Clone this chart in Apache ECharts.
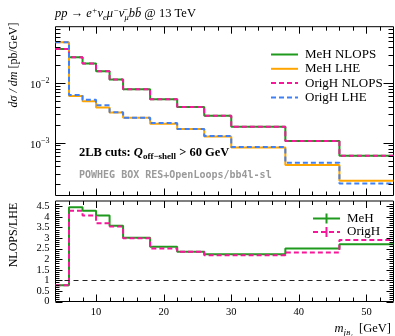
<!DOCTYPE html>
<html><head><meta charset="utf-8">
<script src="https://cdn.jsdelivr.net/npm/echarts@6/dist/echarts.min.js"></script>
<style>html,body{margin:0;padding:0;background:#fff}#c{width:395px;height:336px}</style>
</head><body><div id="c"></div>
<script>
// ---- data ----
const binEdges = [4, 6, 8, 10, 12, 14, 18, 22, 26, 30, 38, 46, 54];
const mehNlops   = [0.0371, 0.0269, 0.0212, 0.0157, 0.0114, 0.00787, 0.00535, 0.00396, 0.00283, 0.00185, 0.00107, 0.000606];
const mehLhe     = [0.0482, 0.00605, 0.00494, 0.00387, 0.00320, 0.00262, 0.00207, 0.00169, 0.00127, 0.00083, 0.000425, 0.000231];
const orighNlops = [0.0371, 0.0269, 0.0212, 0.0157, 0.0114, 0.00787, 0.00535, 0.00396, 0.00283, 0.00185, 0.00107, 0.000606];
const orighLhe   = [0.0482, 0.00628, 0.00522, 0.00424, 0.00323, 0.00263, 0.00213, 0.00169, 0.00129, 0.00085, 0.00046, 0.000208];
const mehRatio   = [0.77, 4.45, 4.29, 4.06, 3.58, 3.01, 2.59, 2.35, 2.23, 2.23, 2.51, 2.70];
const orighRatio = [0.77, 4.29, 4.06, 3.70, 3.54, 2.99, 2.51, 2.35, 2.19, 2.19, 2.32, 2.91];
// ---- ticks / labels ----
const xMajorTicks = [10, 20, 30, 40, 50];
const xMinorTicks = [6, 8, 12, 14, 16, 18, 22, 24, 26, 28, 32, 34, 36, 38, 42, 44, 46, 48, 52];
const logMajorTicks = [0.001, 0.01];
const logMajorLabels = ['−3', '−2'];
const logMinorTicks = [2e-4,3e-4,4e-4,5e-4,6e-4,7e-4,8e-4,9e-4, 2e-3,3e-3,4e-3,5e-3,6e-3,7e-3,8e-3,9e-3, 2e-2,3e-2,4e-2,5e-2,6e-2,7e-2,8e-2];
const ratioMajorTicks = [0, 0.5, 1, 1.5, 2, 2.5, 3, 3.5, 4, 4.5];
const ratioMajorLabels = ['0', '0.5', '1', '1.5', '2', '2.5', '3', '3.5', '4', '4.5'];
const ratioMinorTicks = [];
for (let k = 1; k < 47; k++) { if (k % 5 !== 0) ratioMinorTicks.push(k / 10); }

const SERIF = 'Liberation Serif';
const MONO = 'DejaVu Sans Mono';
const C_GREEN = '#1f9a1f', C_ORANGE = '#ffa500', C_PINK = '#f5169a', C_BLUE = '#4080f5';

function steps(vals) {
  const pts = [];
  vals.forEach((v, i) => { pts.push([binEdges[i], v], [binEdges[i + 1], v]); });
  return pts;
}

function tickRenderer(cfg) {
  return function (params, api) {
    const cs = params.coordSys;
    const ch = [];
    const top = cs.y, bot = cs.y + cs.height, lft = cs.x, rgt = cs.x + cs.width;
    const seg = (x1, y1, x2, y2) => ch.push({type: 'line', shape: {x1, y1, x2, y2}, style: {stroke: '#000', lineWidth: 1}});
    const xt = (v, len) => { const px = Math.round(api.coord([v, cfg.yRef])[0]) + 0.5; seg(px, bot, px, bot - len); seg(px, top, px, top + len); };
    const yt = (v, len) => { const py = Math.round(api.coord([cfg.xRef, v])[1]) + 0.5; seg(lft, py, lft + len, py); seg(rgt, py, rgt - len, py); };
    cfg.xMaj.forEach(v => xt(v, 7));
    cfg.xMin.forEach(v => xt(v, 4));
    cfg.yMaj.forEach(v => yt(v, cfg.yMajLen));
    cfg.yMin.forEach(v => yt(v, cfg.yMinLen));
    if (cfg.yPowLabels) {
      cfg.yMaj.forEach((v, i) => {
        const py = api.coord([cfg.xRef, v])[1];
        ch.push({type: 'text', x: lft - 6, y: py + 1,
          style: {text: '{a|10}{b|' + cfg.yPowLabels[i] + '}', align: 'right', verticalAlign: 'middle', fill: '#000',
            rich: {a: {fontFamily: SERIF, fontSize: 11, lineHeight: 14, verticalAlign: 'bottom'},
                   b: {fontFamily: SERIF, fontSize: 8, lineHeight: 9, verticalAlign: 'top'}}}});
      });
    }
    if (cfg.yPlainLabels) {
      cfg.yMaj.forEach((v, i) => {
        const py = api.coord([cfg.xRef, v])[1];
        ch.push({type: 'text', x: lft - 6, y: py,
          style: {text: cfg.yPlainLabels[i], align: 'right', verticalAlign: 'middle', fill: '#000', fontFamily: SERIF, fontSize: 10.5}});
      });
    }
    return {type: 'group', children: ch};
  };
}

const chart = echarts.init(document.getElementById('c'), null, {renderer: 'canvas', width: 395, height: 336});

const lineSer = (name, data, color, dashed, xi, yi, z) => ({
  name, type: 'line', data, xAxisIndex: xi, yAxisIndex: yi, symbol: 'none', showSymbol: false,
  lineStyle: {color, width: 2, type: dashed ? [5, 3] : 'solid'}, itemStyle: {color}, z, silent: true
});

const option = {
  animation: false,
  backgroundColor: '#fff',
  grid: [
    {left: 55.5, top: 26.7, width: 338, height: 168.8, show: true, borderColor: '#000', borderWidth: 1, backgroundColor: 'transparent'},
    {left: 55.5, top: 201, width: 338, height: 100.5, show: true, borderColor: '#000', borderWidth: 1, backgroundColor: 'transparent'}
  ],
  xAxis: [
    {gridIndex: 0, type: 'value', min: 4, max: 54, interval: 2, axisLabel: {show: false}, axisTick: {show: false}, axisLine: {show: false}, splitLine: {show: false}},
    {gridIndex: 1, type: 'value', min: 4, max: 54, interval: 2, axisTick: {show: false}, axisLine: {show: false}, splitLine: {show: false},
      axisLabel: {show: true, margin: 5, fontFamily: SERIF, fontSize: 10.5, color: '#000', showMinLabel: false, showMaxLabel: false,
        formatter: v => (Math.abs(v % 10) < 1e-9 ? String(v) : '')}}
  ],
  yAxis: [
    {gridIndex: 0, type: 'log', logBase: 10, min: Math.pow(10, -3.884), max: Math.pow(10, -1.057), axisLabel: {show: false}, axisTick: {show: false}, axisLine: {show: false}, splitLine: {show: false}},
    {gridIndex: 1, type: 'value', min: 0, max: 4.75, interval: 0.5, axisTick: {show: false}, axisLine: {show: false}, splitLine: {show: false}, axisLabel: {show: false}}
  ],
  legend: {
    data: ['MeH NLOPS', 'MeH LHE', 'OrigH NLOPS', 'OrigH LHE'],
    orient: 'vertical', left: 265, top: 43, itemWidth: 27, itemHeight: 14, itemGap: 1.3,
    itemStyle: {color: 'rgba(0,0,0,0)', borderColor: 'rgba(0,0,0,0)', borderWidth: 0, opacity: 0},
    selectedMode: false, textStyle: {fontFamily: SERIF, fontSize: 13, color: '#000', padding: [0, 0, 0, 2]}
  },
  series: [
    lineSer('MeH NLOPS', steps(mehNlops), C_GREEN, false, 0, 0, 2),
    lineSer('MeH LHE', steps(mehLhe), C_ORANGE, false, 0, 0, 2),
    lineSer('OrigH NLOPS', steps(orighNlops), C_PINK, true, 0, 0, 3),
    lineSer('OrigH LHE', steps(orighLhe), C_BLUE, true, 0, 0, 3),
    Object.assign(lineSer('MeH', steps(mehRatio), C_GREEN, false, 1, 1, 2), {
      markLine: {silent: true, symbol: 'none', label: {show: false},
        lineStyle: {color: '#222', width: 1, type: [5, 4]}, data: [{yAxis: 1}]}
    }),
    lineSer('OrigH', steps(orighRatio), C_PINK, true, 1, 1, 3),
    {type: 'custom', xAxisIndex: 0, yAxisIndex: 0, data: [[10, 0.001]], silent: true, clip: false, z: 10,
      renderItem: tickRenderer({xMaj: xMajorTicks, xMin: xMinorTicks, yMaj: logMajorTicks, yMin: logMinorTicks, xRef: 10, yRef: 0.001, yMajLen: 10, yMinLen: 5, yPowLabels: logMajorLabels})},
    {type: 'custom', xAxisIndex: 1, yAxisIndex: 1, data: [[10, 1]], silent: true, clip: false, z: 10,
      renderItem: tickRenderer({xMaj: xMajorTicks, xMin: xMinorTicks, yMaj: ratioMajorTicks, yMin: ratioMinorTicks, xRef: 10, yRef: 1, yMajLen: 7, yMinLen: 4, yPlainLabels: ratioMajorLabels})}
  ],
  graphic: [
    {type: 'text', x: 55, y: 14, silent: true, style: {
      text: '{i|pp} {r|→} {i|e}{sp|+}{i|ν}{sb|e}{i|μ}{sp|−}{i|ν̄}{sb|μ}{i|bb̄} {r|@ 13 TeV}',
      align: 'left', verticalAlign: 'middle', fill: '#000', fontFamily: SERIF, fontSize: 12.5,
      rich: {
        i: {fontFamily: SERIF, fontStyle: 'italic', fontSize: 12.5, lineHeight: 16},
        r: {fontFamily: SERIF, fontSize: 12.5, lineHeight: 16},
        sp: {fontFamily: SERIF, fontStyle: 'italic', fontSize: 8.5, lineHeight: 8, verticalAlign: 'top'},
        sb: {fontFamily: SERIF, fontStyle: 'italic', fontSize: 8.5, lineHeight: 10, verticalAlign: 'bottom'}
      }}},
    {type: 'text', x: 13.5, y: 65, rotation: Math.PI / 2, silent: true, style: {
      text: '{i|dσ / dm} {r|[pb/GeV]}', align: 'center', verticalAlign: 'middle', fill: '#000', fontFamily: SERIF, fontSize: 12,
      rich: {i: {fontFamily: SERIF, fontStyle: 'italic', fontSize: 12}, r: {fontFamily: SERIF, fontSize: 12}}}},
    {type: 'text', x: 14, y: 235, rotation: Math.PI / 2, silent: true, style: {
      text: 'NLOPS/LHE', align: 'center', verticalAlign: 'middle', fill: '#000', fontFamily: SERIF, fontSize: 12}},
    {type: 'text', x: 79, y: 153, silent: true, style: {
      text: '{b|2LB cuts: }{q|Q}{s|off−shell}{b| > 60 GeV}', align: 'left', verticalAlign: 'middle', fill: '#000',
      fontFamily: SERIF, fontSize: 12.5, fontWeight: 'bold',
      rich: {
        b: {fontFamily: SERIF, fontSize: 12.5, fontWeight: 'bold', lineHeight: 16},
        q: {fontFamily: SERIF, fontSize: 12.5, fontWeight: 'bold', fontStyle: 'italic', lineHeight: 16},
        s: {fontFamily: SERIF, fontSize: 9, fontWeight: 'bold', lineHeight: 10, verticalAlign: 'bottom'}
      }}},
    {type: 'text', x: 79, y: 175, silent: true, style: {
      text: 'POWHEG BOX RES+OpenLoops/bb4l-sl', align: 'left', verticalAlign: 'middle', fill: '#9a9a9a',
      fontFamily: MONO, fontSize: 10, fontWeight: 'bold'}},
    // lower legend
    {type: 'line', silent: true, shape: {x1: 313, y1: 218.5, x2: 340, y2: 218.5}, style: {stroke: C_GREEN, lineWidth: 2}},
    {type: 'line', silent: true, shape: {x1: 326.5, y1: 213.5, x2: 326.5, y2: 223.5}, style: {stroke: C_GREEN, lineWidth: 2}},
    {type: 'text', x: 347, y: 218.5, silent: true, style: {text: 'MeH', align: 'left', verticalAlign: 'middle', fill: '#000', fontFamily: SERIF, fontSize: 13}},
    {type: 'line', silent: true, shape: {x1: 313, y1: 232, x2: 340, y2: 232}, style: {stroke: C_PINK, lineWidth: 2, lineDash: [5, 3]}},
    {type: 'line', silent: true, shape: {x1: 326.5, y1: 227, x2: 326.5, y2: 237}, style: {stroke: C_PINK, lineWidth: 2}},
    {type: 'text', x: 347, y: 232, silent: true, style: {text: 'OrigH', align: 'left', verticalAlign: 'middle', fill: '#000', fontFamily: SERIF, fontSize: 13}},
    // x-axis title
    {type: 'text', x: 391, y: 329, silent: true, style: {
      text: '{i|m}{s|j}{ss|B₁}{r|  [GeV]}', align: 'right', verticalAlign: 'middle', fill: '#000', fontFamily: SERIF, fontSize: 12,
      rich: {
        i: {fontFamily: SERIF, fontStyle: 'italic', fontSize: 12.5, lineHeight: 16},
        s: {fontFamily: SERIF, fontStyle: 'italic', fontSize: 9, lineHeight: 11, verticalAlign: 'bottom'},
        ss: {fontFamily: SERIF, fontStyle: 'italic', fontSize: 7, lineHeight: 8, verticalAlign: 'bottom'},
        r: {fontFamily: SERIF, fontSize: 12.5, lineHeight: 16}
      }}}
  ]
};
chart.setOption(option);
</script>
</body></html>
